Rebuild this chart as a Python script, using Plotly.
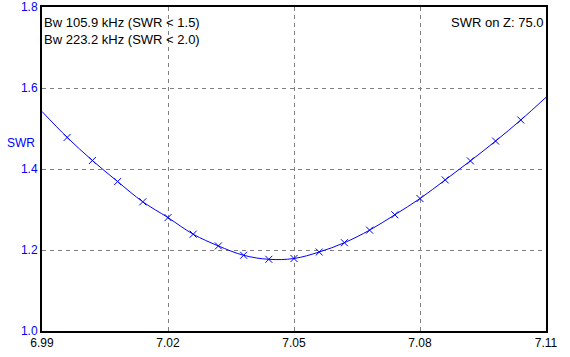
import plotly.graph_objects as go

# Frequency (MHz) of sampled curve points
freq = [6.990, 6.996, 7.002, 7.008, 7.014, 7.020, 7.026, 7.032, 7.038, 7.044,
        7.050, 7.056, 7.062, 7.068, 7.074, 7.080, 7.086, 7.092, 7.098, 7.104, 7.110]
swr = [1.542, 1.478, 1.421, 1.369, 1.319, 1.280, 1.239, 1.210, 1.187, 1.177,
       1.179, 1.195, 1.218, 1.249, 1.287, 1.327, 1.373, 1.420, 1.469, 1.521, 1.577]

# markers are drawn on the inner points only
marker_freq = freq[1:-1]
marker_swr = swr[1:-1]

x_ticks = [6.99, 7.02, 7.05, 7.08, 7.11]
y_ticks = [1.0, 1.2, 1.4, 1.6, 1.8]

blue = "#0000ff"
font = "Liberation Sans, Arial, sans-serif"

fig = go.Figure()
fig.add_trace(go.Scatter(x=freq, y=swr, mode="lines", line=dict(color=blue, width=1, shape="spline"),
                         showlegend=False, hoverinfo="skip"))
fig.add_trace(go.Scatter(x=marker_freq, y=marker_swr, mode="markers",
                         marker=dict(symbol="x-thin", size=7, color=blue,
                                     line=dict(color=blue, width=1)),
                         showlegend=False))

fig.update_layout(
    width=570, height=357,
    margin=dict(l=42, r=24, t=7, b=26, autoexpand=False),
    paper_bgcolor="white", plot_bgcolor="white",
    font=dict(family=font, size=12, color="black"),
    xaxis=dict(range=[6.99, 7.11], tickvals=x_ticks, ticktext=[f"{v:.2f}" for v in x_ticks],
               showgrid=True, gridcolor="#808080", griddash="4px,4px", gridwidth=1,
               showline=True, linecolor="black", linewidth=2, mirror=True, automargin=False,
               ticks="", zeroline=False, tickfont=dict(color="black", size=12)),
    yaxis=dict(range=[1.0, 1.8], tickvals=y_ticks, ticktext=[f"{v:.1f}" for v in y_ticks],
               showgrid=True, gridcolor="#808080", griddash="4px,4px", gridwidth=1,
               showline=True, linecolor="black", linewidth=2, mirror=True, automargin=False,
               ticks="", zeroline=False, tickfont=dict(color=blue, size=12)),
    annotations=[
        dict(text="Bw 105.9 kHz (SWR < 1.5)<br>Bw 223.2 kHz (SWR < 2.0)", xref="paper", yref="paper",
             x=0.0, y=1.0, xanchor="left", yanchor="top", xshift=0, yshift=-6,
             showarrow=False, align="left", font=dict(size=13, color="black")),
        dict(text="SWR on Z: 75.0", xref="paper", yref="paper", x=1.0, y=1.0,
             xanchor="right", yanchor="top", xshift=-1, yshift=-6, showarrow=False,
             font=dict(size=13, color="black")),
        dict(text="SWR", xref="paper", yref="y", x=0, y=1.464, xanchor="right", yanchor="middle",
             xshift=-5, showarrow=False, font=dict(size=12, color=blue)),
    ],
)

fig.write_html("out.html", config={"displayModeBar": False},
               post_script="document.body.style.margin='0';")
